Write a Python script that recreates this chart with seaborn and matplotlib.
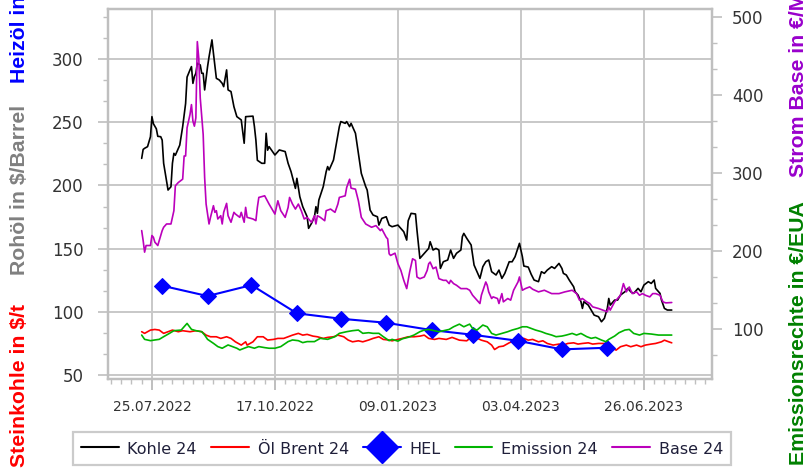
import pandas as pd
import seaborn as sns
import matplotlib.pyplot as plt
import matplotlib.dates as mdates
from matplotlib.ticker import MultipleLocator
from matplotlib.lines import Line2D

# Kohle 24 ($/t, left axis)
kohle_dates = [
    '2022-07-18', '2022-07-19', '2022-07-20', '2022-07-22', '2022-07-24', '2022-07-25', '2022-07-26', '2022-07-28',
    '2022-07-29', '2022-07-31', '2022-08-01', '2022-08-02', '2022-08-05', '2022-08-07', '2022-08-08', '2022-08-09',
    '2022-08-10', '2022-08-13', '2022-08-15', '2022-08-17', '2022-08-18', '2022-08-20', '2022-08-21', '2022-08-22',
    '2022-08-23', '2022-08-24', '2022-08-25', '2022-08-27', '2022-08-28', '2022-08-29', '2022-08-30', '2022-09-01',
    '2022-09-02', '2022-09-04', '2022-09-05', '2022-09-07', '2022-09-09', '2022-09-11', '2022-09-12', '2022-09-14',
    '2022-09-15', '2022-09-17', '2022-09-19', '2022-09-21', '2022-09-24', '2022-09-26', '2022-09-27', '2022-10-02',
    '2022-10-03', '2022-10-04', '2022-10-05', '2022-10-08', '2022-10-10', '2022-10-11', '2022-10-12', '2022-10-13',
    '2022-10-17', '2022-10-20', '2022-10-24', '2022-10-26', '2022-10-28', '2022-10-31', '2022-11-01', '2022-11-03',
    '2022-11-05', '2022-11-08', '2022-11-09', '2022-11-11', '2022-11-13', '2022-11-14', '2022-11-15', '2022-11-16',
    '2022-11-19', '2022-11-21', '2022-11-22', '2022-11-23', '2022-11-26', '2022-11-28', '2022-11-30', '2022-12-01',
    '2022-12-04', '2022-12-05', '2022-12-07', '2022-12-08', '2022-12-11', '2022-12-13', '2022-12-15', '2022-12-18',
    '2022-12-19', '2022-12-21', '2022-12-23', '2022-12-26', '2022-12-27', '2022-12-29', '2023-01-01', '2023-01-03',
    '2023-01-05', '2023-01-09', '2023-01-11', '2023-01-13', '2023-01-15', '2023-01-16', '2023-01-18', '2023-01-21',
    '2023-01-22', '2023-01-24', '2023-01-26', '2023-01-28', '2023-01-30', '2023-01-31', '2023-02-02', '2023-02-04',
    '2023-02-06', '2023-02-07', '2023-02-09', '2023-02-12', '2023-02-14', '2023-02-16', '2023-02-18', '2023-02-21',
    '2023-02-22', '2023-02-23', '2023-02-25', '2023-02-28', '2023-03-02', '2023-03-04', '2023-03-06', '2023-03-08',
    '2023-03-10', '2023-03-12', '2023-03-14', '2023-03-17', '2023-03-19', '2023-03-21', '2023-03-23', '2023-03-26',
    '2023-03-28', '2023-03-30', '2023-04-02', '2023-04-04', '2023-04-05', '2023-04-08', '2023-04-10', '2023-04-12',
    '2023-04-15', '2023-04-17', '2023-04-19', '2023-04-21', '2023-04-24', '2023-04-26', '2023-04-29', '2023-05-01',
    '2023-05-02', '2023-05-04', '2023-05-06', '2023-05-09', '2023-05-10', '2023-05-12', '2023-05-14', '2023-05-15',
    '2023-05-16', '2023-05-19', '2023-05-21', '2023-05-23', '2023-05-26', '2023-05-28', '2023-05-30', '2023-06-01',
    '2023-06-02', '2023-06-03', '2023-06-06', '2023-06-08', '2023-06-10', '2023-06-13', '2023-06-15', '2023-06-17',
    '2023-06-19', '2023-06-22', '2023-06-24', '2023-06-26', '2023-06-29', '2023-07-01', '2023-07-03', '2023-07-04',
    '2023-07-07', '2023-07-08', '2023-07-10', '2023-07-12', '2023-07-15']
kohle = [
    221.5, 228.6, 229.5, 230.8, 238.7, 254.6, 249.0, 245.0,
    239.0, 238.7, 236.0, 217.6, 196.4, 199.0, 217.6, 225.5,
    224.0, 232.0, 246.7, 265.0, 286.0, 291.7, 294.3, 281.0,
    286.4, 289.0, 297.0, 295.6, 289.0, 289.0, 275.8, 294.3,
    302.0, 315.5, 305.0, 285.0, 283.7, 281.0, 278.4, 291.7,
    275.8, 274.5, 262.5, 254.6, 252.0, 233.5, 254.6, 255.0,
    246.7, 236.0, 220.0, 217.6, 217.6, 241.4, 228.0, 230.8,
    224.2, 228.2, 226.9, 217.6, 211.0, 197.7, 205.7, 191.1,
    183.2, 175.2, 166.0, 170.0, 175.2, 183.2, 177.9, 188.5,
    199.1, 211.0, 215.0, 212.3, 220.2, 233.5, 246.7, 250.7,
    249.3, 250.7, 246.7, 249.3, 241.4, 225.5, 209.6, 199.1,
    196.4, 180.5, 176.6, 175.2, 168.6, 173.9, 175.2, 168.6,
    167.3, 168.6, 166.0, 163.3, 156.7, 172.0, 177.9, 177.4,
    164.7, 142.2, 144.8, 147.5, 150.1, 155.4, 148.8, 150.1,
    148.8, 134.2, 139.5, 140.9, 148.8, 142.2, 146.2, 148.8,
    159.4, 162.0, 158.1, 152.8, 136.9, 131.6, 126.3, 135.6,
    139.5, 140.9, 131.6, 129.0, 132.9, 126.3, 130.3, 139.5,
    139.5, 143.5, 154.1, 143.5, 136.1, 135.3, 129.6, 125.0,
    123.7, 131.6, 130.3, 132.9, 135.6, 134.2, 138.2, 134.2,
    130.3, 129.0, 125.0, 119.7, 115.7, 113.1, 107.8, 102.5,
    107.8, 105.1, 101.2, 97.2, 95.9, 91.9, 94.6, 102.5,
    110.4, 105.1, 109.1, 109.1, 113.1, 115.7, 118.4, 115.7,
    114.4, 118.4, 115.7, 121.0, 123.7, 122.3, 125.0, 118.4,
    114.4, 109.1, 102.5, 101.2, 101.2]

# Öl Brent 24 ($/Barrel, left axis)
brent_dates = [
    '2022-07-18', '2022-07-20', '2022-07-24', '2022-07-27', '2022-07-30', '2022-08-02', '2022-08-05', '2022-08-08',
    '2022-08-12', '2022-08-15', '2022-08-20', '2022-08-24', '2022-08-28', '2022-08-31', '2022-09-03', '2022-09-07',
    '2022-09-10', '2022-09-14', '2022-09-17', '2022-09-20', '2022-09-24', '2022-09-27', '2022-09-28', '2022-10-02',
    '2022-10-05', '2022-10-09', '2022-10-12', '2022-10-16', '2022-10-19', '2022-10-23', '2022-10-26', '2022-10-29',
    '2022-11-02', '2022-11-05', '2022-11-08', '2022-11-12', '2022-11-15', '2022-11-19', '2022-11-22', '2022-11-26',
    '2022-11-29', '2022-12-03', '2022-12-06', '2022-12-09', '2022-12-13', '2022-12-16', '2022-12-20', '2022-12-23',
    '2022-12-27', '2022-12-30', '2023-01-03', '2023-01-05', '2023-01-09', '2023-01-12', '2023-01-16', '2023-01-20',
    '2023-01-24', '2023-01-27', '2023-01-30', '2023-02-03', '2023-02-06', '2023-02-11', '2023-02-15', '2023-02-20',
    '2023-02-25', '2023-02-28', '2023-03-03', '2023-03-07', '2023-03-11', '2023-03-14', '2023-03-16', '2023-03-19',
    '2023-03-22', '2023-03-26', '2023-03-29', '2023-04-01', '2023-04-05', '2023-04-08', '2023-04-11', '2023-04-15',
    '2023-04-18', '2023-04-21', '2023-04-25', '2023-04-29', '2023-05-02', '2023-05-05', '2023-05-09', '2023-05-12',
    '2023-05-15', '2023-05-19', '2023-05-22', '2023-05-26', '2023-05-30', '2023-06-03', '2023-06-07', '2023-06-10',
    '2023-06-14', '2023-06-17', '2023-06-21', '2023-06-24', '2023-06-27', '2023-07-01', '2023-07-04', '2023-07-08',
    '2023-07-10', '2023-07-13', '2023-07-15']
brent = [
    84.0, 82.7, 85.3, 85.8, 85.3, 82.7, 84.0, 85.3,
    84.0, 84.8, 84.0, 84.8, 84.0, 81.3, 80.0, 80.0,
    78.7, 80.0, 78.7, 76.0, 73.4, 76.0, 73.4, 76.0,
    80.0, 80.0, 77.4, 77.9, 78.7, 78.7, 80.0, 81.3,
    82.7, 81.3, 81.9, 80.5, 80.0, 78.7, 79.5, 80.0,
    81.3, 80.0, 77.4, 76.0, 76.8, 76.0, 77.4, 78.7,
    80.0, 77.9, 77.4, 76.8, 77.9, 78.7, 80.0, 80.0,
    80.5, 81.3, 78.7, 77.9, 78.7, 77.9, 79.5, 77.3,
    76.8, 79.5, 79.5, 77.3, 76.0, 73.4, 69.9, 72.1,
    72.6, 75.2, 76.8, 77.9, 78.7, 77.3, 77.9, 76.0,
    76.8, 74.7, 73.4, 74.2, 73.4, 74.7, 75.2, 74.2,
    74.7, 75.2, 74.2, 74.7, 74.7, 72.1, 69.4, 72.1,
    73.4, 72.1, 73.4, 72.1, 73.4, 74.2, 74.7, 76.0,
    77.3, 76.0, 75.2]

# HEL (Heizöl, left axis), monthly
hel_dates = ['2022-08-01', '2022-09-01', '2022-10-01', '2022-11-01', '2022-12-01', '2023-01-01',
             '2023-02-01', '2023-03-01', '2023-04-01', '2023-05-01', '2023-06-01']
hel = [120.5, 112.3, 121.0, 98.6, 94.3, 91.1, 85.3, 81.6, 76.8, 70.0, 71.3]

# Emission 24 (€/EUA, right axis)
emission_dates = [
    '2022-07-18', '2022-07-20', '2022-07-24', '2022-07-27', '2022-07-30', '2022-08-02', '2022-08-06', '2022-08-09',
    '2022-08-14', '2022-08-16', '2022-08-18', '2022-08-21', '2022-08-24', '2022-08-28', '2022-08-30', '2022-09-01',
    '2022-09-05', '2022-09-08', '2022-09-11', '2022-09-15', '2022-09-18', '2022-09-21', '2022-09-23', '2022-09-26',
    '2022-09-29', '2022-10-03', '2022-10-06', '2022-10-10', '2022-10-13', '2022-10-17', '2022-10-21', '2022-10-26',
    '2022-10-29', '2022-11-02', '2022-11-05', '2022-11-08', '2022-11-13', '2022-11-17', '2022-11-22', '2022-11-27',
    '2022-11-30', '2022-12-05', '2022-12-09', '2022-12-13', '2022-12-16', '2022-12-20', '2022-12-23', '2022-12-27',
    '2022-12-30', '2023-01-03', '2023-01-05', '2023-01-09', '2023-01-12', '2023-01-16', '2023-01-20', '2023-01-24',
    '2023-01-27', '2023-01-30', '2023-02-03', '2023-02-06', '2023-02-09', '2023-02-13', '2023-02-16', '2023-02-20',
    '2023-02-23', '2023-02-27', '2023-03-01', '2023-03-04', '2023-03-08', '2023-03-11', '2023-03-14', '2023-03-17',
    '2023-03-21', '2023-03-25', '2023-03-28', '2023-04-01', '2023-04-04', '2023-04-07', '2023-04-10', '2023-04-13',
    '2023-04-17', '2023-04-20', '2023-04-24', '2023-04-27', '2023-05-01', '2023-05-04', '2023-05-08', '2023-05-11',
    '2023-05-14', '2023-05-18', '2023-05-21', '2023-05-24', '2023-05-28', '2023-05-31', '2023-06-02', '2023-06-06',
    '2023-06-09', '2023-06-13', '2023-06-16', '2023-06-19', '2023-06-23', '2023-06-26', '2023-07-01', '2023-07-06',
    '2023-07-10', '2023-07-15']
emission = [
    92.3, 86.8, 85.1, 86.0, 86.8, 90.2, 94.5, 97.9,
    98.7, 103.0, 107.2, 99.6, 97.9, 96.6, 92.3, 86.8,
    81.7, 77.5, 75.4, 79.6, 77.5, 75.4, 73.2, 75.4,
    77.5, 75.4, 77.5, 76.2, 75.4, 75.4, 77.5, 83.9,
    86.0, 85.1, 82.6, 83.9, 83.9, 88.1, 86.8, 90.2,
    94.5, 96.6, 97.9, 98.7, 94.5, 95.3, 94.5, 94.5,
    90.2, 85.1, 86.8, 84.5, 87.5, 89.4, 92.3, 96.6,
    98.7, 99.5, 97.8, 96.6, 97.8, 99.5, 102.9, 106.3,
    102.9, 106.3, 100.8, 98.7, 105.1, 102.9, 94.4, 92.3,
    94.4, 96.6, 98.7, 100.8, 102.9, 102.9, 100.8, 98.7,
    96.6, 94.4, 92.3, 90.2, 91.0, 92.3, 94.4, 92.3,
    94.4, 90.2, 88.1, 89.3, 85.9, 83.8, 86.8, 91.0,
    95.3, 98.7, 99.5, 94.4, 92.3, 94.4, 93.6, 92.3,
    92.3, 92.3]

# Base 24 (€/MWh, right axis)
base_dates = [
    '2022-07-18', '2022-07-19', '2022-07-20', '2022-07-21', '2022-07-24', '2022-07-25', '2022-07-26', '2022-07-27',
    '2022-07-29', '2022-07-31', '2022-08-01', '2022-08-02', '2022-08-04', '2022-08-07', '2022-08-08', '2022-08-09',
    '2022-08-10', '2022-08-12', '2022-08-15', '2022-08-16', '2022-08-17', '2022-08-18', '2022-08-20', '2022-08-21',
    '2022-08-22', '2022-08-23', '2022-08-24', '2022-08-25', '2022-08-26', '2022-08-27', '2022-08-29', '2022-08-30',
    '2022-08-31', '2022-09-02', '2022-09-03', '2022-09-05', '2022-09-06', '2022-09-07', '2022-09-08', '2022-09-10',
    '2022-09-11', '2022-09-12', '2022-09-14', '2022-09-15', '2022-09-17', '2022-09-19', '2022-09-20', '2022-09-23',
    '2022-09-24', '2022-09-26', '2022-09-27', '2022-09-28', '2022-10-02', '2022-10-04', '2022-10-05', '2022-10-06',
    '2022-10-10', '2022-10-13', '2022-10-17', '2022-10-19', '2022-10-21', '2022-10-24', '2022-10-26', '2022-10-27',
    '2022-10-29', '2022-10-31', '2022-11-02', '2022-11-04', '2022-11-06', '2022-11-08', '2022-11-11', '2022-11-13',
    '2022-11-14', '2022-11-15', '2022-11-17', '2022-11-20', '2022-11-21', '2022-11-24', '2022-11-27', '2022-11-29',
    '2022-11-30', '2022-12-04', '2022-12-05', '2022-12-07', '2022-12-08', '2022-12-11', '2022-12-13', '2022-12-15',
    '2022-12-18', '2022-12-20', '2022-12-22', '2022-12-25', '2022-12-28', '2022-12-29', '2023-01-01', '2023-01-02',
    '2023-01-03', '2023-01-04', '2023-01-07', '2023-01-09', '2023-01-11', '2023-01-13', '2023-01-15', '2023-01-17',
    '2023-01-19', '2023-01-21', '2023-01-22', '2023-01-24', '2023-01-27', '2023-01-29', '2023-01-30', '2023-01-31',
    '2023-02-02', '2023-02-04', '2023-02-06', '2023-02-09', '2023-02-11', '2023-02-13', '2023-02-14', '2023-02-16',
    '2023-02-18', '2023-02-21', '2023-02-25', '2023-02-27', '2023-03-01', '2023-03-03', '2023-03-06', '2023-03-07',
    '2023-03-10', '2023-03-11', '2023-03-12', '2023-03-14', '2023-03-15', '2023-03-18', '2023-03-19', '2023-03-21',
    '2023-03-22', '2023-03-25', '2023-03-27', '2023-03-29', '2023-04-01', '2023-04-02', '2023-04-04', '2023-04-06',
    '2023-04-09', '2023-04-11', '2023-04-15', '2023-04-19', '2023-04-24', '2023-04-29', '2023-05-03', '2023-05-08',
    '2023-05-11', '2023-05-13', '2023-05-15', '2023-05-18', '2023-05-20', '2023-05-22', '2023-05-26', '2023-05-29',
    '2023-06-01', '2023-06-02', '2023-06-03', '2023-06-06', '2023-06-10', '2023-06-12', '2023-06-14', '2023-06-16',
    '2023-06-18', '2023-06-21', '2023-06-23', '2023-06-25', '2023-06-27', '2023-06-30', '2023-07-02', '2023-07-04',
    '2023-07-07', '2023-07-09', '2023-07-11', '2023-07-15']
base = [
    226.1, 213.4, 198.5, 207.0, 207.0, 219.8, 217.6, 211.3,
    207.0, 219.8, 226.1, 230.4, 234.6, 234.6, 243.1, 251.6,
    283.5, 287.7, 292.0, 321.7, 321.7, 357.8, 374.8, 387.5,
    366.3, 359.9, 370.5, 468.2, 446.9, 396.0, 349.3, 294.1,
    260.1, 234.6, 243.1, 258.0, 249.5, 251.6, 241.0, 245.2,
    234.6, 249.5, 261.0, 245.2, 236.8, 249.5, 247.4, 243.1,
    249.5, 236.8, 255.9, 243.1, 241.0, 238.9, 255.9, 268.6,
    270.7, 260.1, 247.3, 264.3, 251.6, 243.1, 255.8, 268.6,
    260.1, 253.7, 260.1, 251.6, 241.0, 243.1, 236.7, 245.2,
    234.6, 245.2, 243.1, 238.8, 251.6, 253.7, 249.5, 260.1,
    268.6, 270.7, 281.3, 291.9, 280.5, 279.2, 264.3, 243.1,
    234.6, 232.5, 230.4, 232.5, 226.1, 228.2, 217.6, 215.5,
    196.4, 194.3, 197.2, 183.7, 175.2, 162.4, 151.8, 173.0,
    190.0, 187.9, 166.7, 164.5, 166.7, 175.2, 183.6, 185.8,
    177.3, 179.4, 164.5, 162.4, 162.4, 158.2, 162.4, 158.2,
    156.1, 151.8, 151.8, 149.7, 143.3, 139.1, 132.7, 143.3,
    160.3, 156.1, 147.6, 139.1, 141.2, 139.1, 132.7, 145.4,
    134.8, 139.1, 137.0, 149.7, 160.3, 166.7, 149.7, 151.8,
    154.0, 151.0, 147.6, 149.7, 145.4, 145.4, 147.6, 149.7,
    145.4, 136.9, 139.1, 134.8, 132.7, 128.4, 126.3, 124.2,
    122.1, 128.4, 124.2, 134.8, 143.3, 158.2, 147.6, 153.9,
    145.4, 147.6, 143.3, 145.4, 143.3, 141.2, 145.4, 145.4,
    143.3, 134.8, 133.5, 134.0]

tick_dates = ['2022-07-25', '2022-10-17', '2023-01-09', '2023-04-03', '2023-06-26']

grey = '#bfbfbf'
txt = '#333333'

sns.set_style('white')
plt.rcParams['font.family'] = ['DejaVu Sans']

fig = plt.figure(figsize=(8.07, 4.70), dpi=100)
ax = fig.add_axes([108 / 807, 1 - 379 / 470, 604 / 807, 370 / 470])
ax2 = ax.twinx()

sns.lineplot(x=pd.to_datetime(kohle_dates), y=kohle, ax=ax, color='black', linewidth=1.2)
sns.lineplot(x=pd.to_datetime(brent_dates), y=brent, ax=ax, color='#ff0000', linewidth=1.2)
sns.lineplot(x=pd.to_datetime(hel_dates), y=hel, ax=ax, color='#0000ff', linewidth=1.5,
             marker='D', markersize=8.5, markeredgecolor='#0000ff')
sns.lineplot(x=pd.to_datetime(emission_dates), y=emission, ax=ax2, color='#00b400', linewidth=1.2)
sns.lineplot(x=pd.to_datetime(base_dates), y=base, ax=ax2, color='#bb00bb', linewidth=1.2)

ax.set_xlim(pd.Timestamp('2022-06-25'), pd.Timestamp('2023-08-11 12:00'))
ax.set_ylim(46.5, 340)
ax2.set_ylim(36, 510)

ax.set_xticks(pd.to_datetime(tick_dates))
ax.xaxis.set_major_formatter(mdates.DateFormatter('%d.%m.%Y'))
ax.xaxis.set_minor_locator(mdates.WeekdayLocator(byweekday=mdates.MO))
ax.yaxis.set_major_locator(MultipleLocator(50))
ax.yaxis.set_minor_locator(MultipleLocator(50 / 3))
ax2.yaxis.set_major_locator(MultipleLocator(100))
ax2.yaxis.set_minor_locator(MultipleLocator(100 / 3))

ax.grid(True, which='major', color='#c8c8c8', linewidth=1.4)
ax2.grid(False)
for a in (ax, ax2):
    a.set_xlabel('')
    a.set_ylabel('')
    for s in a.spines.values():
        s.set_color(grey)
        s.set_linewidth(1.6)

ax.tick_params(axis='y', which='major', length=7.5, width=1.2, color=grey, pad=10,
               labelsize=12, labelcolor=txt, left=True)
ax.tick_params(axis='y', which='minor', length=3.75, width=1.0, color=grey, left=True)
ax.tick_params(axis='x', which='major', length=8, width=1.4, color=grey, pad=7,
               labelsize=10, labelcolor=txt, bottom=True)
ax.tick_params(axis='x', which='minor', length=3.5, width=1.0, color=grey, bottom=True)
ax2.tick_params(axis='y', which='major', length=7.5, width=1.2, color=grey, pad=7,
                labelsize=12, labelcolor=txt, right=True)
ax2.tick_params(axis='y', which='minor', length=3.75, width=1.0, color=grey, right=True)

# axis titles along both edges (cut by the figure edge, as in the original)
lab = dict(rotation=90, ha='center', va='bottom', fontsize=15.3, fontweight='bold',
           family=['Liberation Sans', 'DejaVu Sans'])
fig.text(20 / 807, 3 / 470, 'Steinkohle in $/t', color='#ff0000', **lab)
fig.text(20 / 807, 195 / 470, 'Rohöl in $/Barrel', color='#808080', **lab)
fig.text(20 / 807, 387 / 470, 'Heizöl in €/100l', color='#0000ff', **lab)
fig.text(799 / 807, 5 / 470, 'Emissionsrechte in €/EUA', color='#008000', **lab)
fig.text(799 / 807, 293 / 470, 'Strom Base in €/MWh', color='#9900cc', **lab)

handles = [
    Line2D([], [], color='black', linewidth=1.5),
    Line2D([], [], color='#ff0000', linewidth=1.5),
    Line2D([], [], color='#0000ff', linewidth=1.5, marker='D', markersize=16),
    Line2D([], [], color='#00b400', linewidth=1.5),
    Line2D([], [], color='#bb00bb', linewidth=1.5),
]
labels = ['Kohle 24', 'Öl Brent 24', 'HEL', 'Emission 24', 'Base 24']
leg = fig.legend(handles, labels, loc='upper left', bbox_to_anchor=(73 / 807, 1 - 432 / 470),
                 ncol=5, frameon=True, fancybox=False, fontsize=11.5, handlelength=2.35,
                 handleheight=1.3, handletextpad=0.55, columnspacing=0.9, borderpad=0.5,
                 borderaxespad=0)
leg.get_frame().set_edgecolor(grey)
leg.get_frame().set_linewidth(1.6)
for t in leg.get_texts():
    t.set_color('#1f1f3a')

fig.savefig('out.png', dpi=100)
